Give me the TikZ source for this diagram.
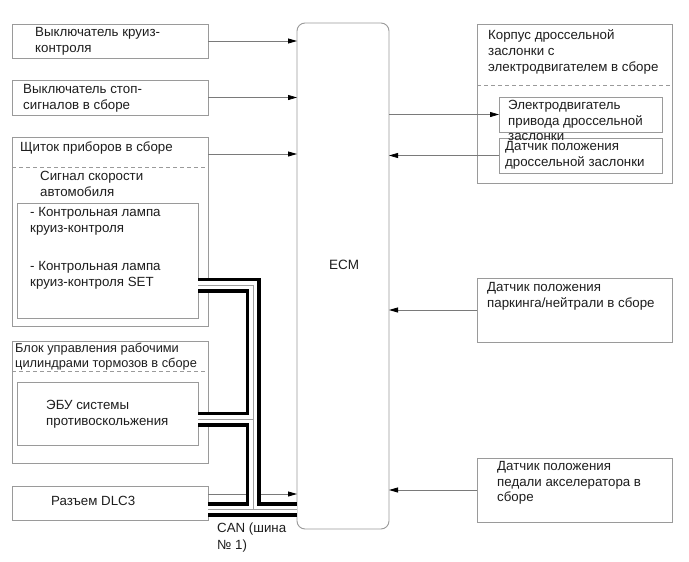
\documentclass[tikz,border=0pt]{standalone}
\usepackage{fontspec}
\setmainfont{Liberation Sans}
\usetikzlibrary{arrows.meta}
\definecolor{boxgrey}{HTML}{9A9A9A}
\definecolor{linegrey}{HTML}{7A7A7A}
\definecolor{busgrey}{HTML}{A0A0A0}
\definecolor{txt}{HTML}{1E1E1E}
\begin{document}
\begin{tikzpicture}[x=1pt,y=-1pt,
  bx/.style={draw=boxgrey, line width=0.9pt, inner sep=0pt, outer sep=0pt, anchor=north west},
  lbl/.style={anchor=north west, inner sep=0pt, align=left, text=txt, font=\fontsize{13.3}{16}\selectfont},
  arr/.style={draw=linegrey, line width=0.8pt, -{Triangle[length=9pt,width=5pt,color=black]}},
  dsh/.style={draw=boxgrey, line width=0.8pt, dash pattern=on 4pt off 3pt},
]
\useasboundingbox[fill=white] (0,0) rectangle (689,562);

% left boxes
\node[bx, minimum width=196pt, minimum height=34pt] (b1) at (12,24) {};
\node[bx, minimum width=196pt, minimum height=35pt] (b2) at (12,80) {};
\node[bx, minimum width=196pt, minimum height=189pt] (b3) at (12,137) {};
\node[bx, minimum width=181pt, minimum height=115pt] (b3in) at (17,203) {};
\node[bx, minimum width=196pt, minimum height=122pt] (b4) at (12,341) {};
\node[bx, minimum width=181pt, minimum height=63pt] (b4in) at (17,382) {};
\node[bx, minimum width=196pt, minimum height=34pt] (b5) at (12,486) {};

% ECM
\node[bx, rounded corners=8pt, minimum width=92pt, minimum height=506pt] (ecm) at (297,23) {};

% right boxes
\node[bx, minimum width=195pt, minimum height=159pt] (r1) at (477,24) {};
\node[bx, minimum width=163pt, minimum height=35pt] (r1a) at (499,97) {};
\node[bx, minimum width=163pt, minimum height=35pt] (r1b) at (499,138) {};
\node[bx, minimum width=195pt, minimum height=64pt] (r2) at (477,278) {};
\node[bx, minimum width=195pt, minimum height=64pt] (r3) at (477,458) {};

% dashed separators
\draw[dsh] ([yshift=-30pt]b3.north west) -- ([yshift=-30pt]b3.north east);
\draw[dsh] ([yshift=-30pt]b4.north west) -- ([yshift=-30pt]b4.north east);
\draw[dsh] ([yshift=-61pt]r1.north west) -- ([yshift=-61pt]r1.north east);

% texts
\node[lbl] (t1) at (35,27.5) {Выключатель круиз-\\контроля};
\node[lbl] (t2) at (23,84.5) {Выключатель стоп-\\сигналов в сборе};
\node[lbl] (t3) at (20,141.5) {Щиток приборов в сборе};
\node[lbl] (t3s) at (40,171.5) {Сигнал скорости\\автомобиля};
\node[lbl] (t3a) at (30,207.5) {- Контрольная лампа\\круиз-контроля};
\node[lbl] (t3b) at (30,261.5) {- Контрольная лампа\\круиз-контроля SET};
\node[lbl, font=\fontsize{12.8}{15}\selectfont] (t4) at (15,342.5) {Блок управления рабочими\\цилиндрами тормозов в сборе};
\node[lbl] (t4a) at (46,400.5) {ЭБУ системы\\противоскольжения};
\node[lbl] (t5) at (51,496.5) {Разъем DLC3};
\node[lbl, font=\fontsize{13.3}{17}\selectfont] (tcan) at (217,522.5) {CAN (шина\\№ 1)};
\node[text=txt, font=\fontsize{13.5}{15}\selectfont, inner sep=0pt] (tecm) at (344,265) {ECM};
\node[lbl] (tr1) at (488,29.5) {Корпус дроссельной\\заслонки с\\электродвигателем в сборе};
\node[lbl, font=\fontsize{13.3}{15.5}\selectfont] (tr1a) at (508,100.5) {Электродвигатель\\привода дроссельной\\заслонки};
\node[lbl] (tr1b) at (505,141.5) {Датчик положения\\дроссельной заслонки};
\node[lbl] (tr2) at (487,282.5) {Датчик положения\\паркинга/нейтрали в сборе};
\node[lbl, font=\fontsize{13.3}{15.5}\selectfont] (tr3) at (497,461.5) {Датчик положения\\педали акселератора в\\сборе};

% arrows
\coordinate (s3) at ([yshift=-17pt]b3.north east);
\coordinate (s5) at ([yshift=-8pt]b5.north east);
\draw[arr] (b1.east) -- (b1.east -| ecm.west);
\draw[arr] (b2.east) -- (b2.east -| ecm.west);
\draw[arr] (s3) -- (s3 -| ecm.west);
\draw[arr] (s5) -- (s5 -| ecm.west);
\draw[arr] (r1a.west -| ecm.east) -- (r1a.west);
\draw[arr] (r1b.west) -- (r1b.west -| ecm.east);
\draw[arr] (r2.west) -- (r2.west -| ecm.east);
\draw[arr] (r3.west) -- (r3.west -| ecm.east);

% CAN bus
\coordinate (c1) at ([yshift=-82pt]b3in.north east);
\coordinate (c2) at (253,285);
\coordinate (c3) at (253,509.5);
\coordinate (c4) at ([yshift=-37pt]b4in.north east);
\coordinate (c5) at (c4 -| c2);
\coordinate (c6) at ([yshift=-23.5pt]b5.north east);
\coordinate (c7) at (c6 -| ecm.west);
\foreach \w/\c in {15pt/black, 7.6pt/white, 0.8pt/busgrey} {
  \draw[line width=\w, draw=\c, line join=miter, line cap=butt] (c1) -- (c2) -- (c3) (c4) -- (c5) (c6) -- (c7);
}
\end{tikzpicture}
\end{document}
